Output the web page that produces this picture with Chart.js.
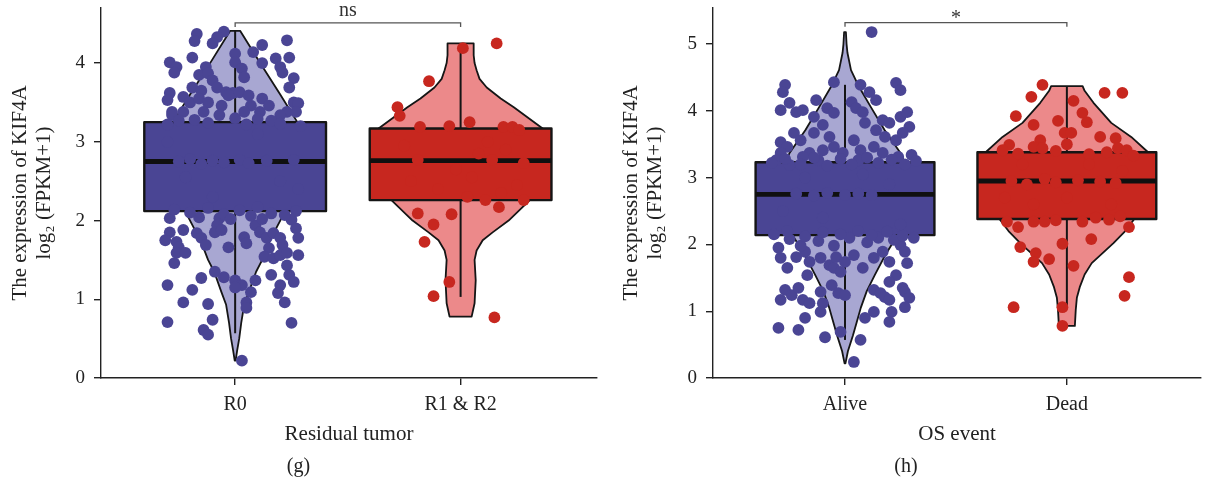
<!DOCTYPE html>
<html>
<head>
<meta charset="utf-8">
<script src="https://cdn.jsdelivr.net/npm/chart.js@4.4.1/dist/chart.umd.min.js"></script>
<style>
  body { margin: 0; background: #fff; }
  #wrap { position: relative; width: 1207px; height: 487px; }
  canvas { position: absolute; top: 0; }
  #chartG { left: 0; }
  #chartH { left: 607px; }
</style>
</head>
<body>
<div id="wrap">
  <canvas id="chartG" width="607" height="487"></canvas>
  <canvas id="chartH" width="600" height="487"></canvas>
</div>
<script>
// categories and tick values
const residualCats = ['R0', 'R1 & R2'];
const osCats = ['Alive', 'Dead'];
const yTicksG = [0, 1, 2, 3, 4];
const yTicksH = [0, 1, 2, 3, 4, 5];

// box stats: [whisker low, Q1, median, Q3, whisker high]
const boxR0 = [0.57, 2.12, 2.75, 3.25, 4.41];
const boxR12 = [1.03, 2.26, 2.76, 3.17, 4.25];
const boxAlive = [0.57, 2.14, 2.75, 3.23, 4.39];
const boxDead = [1.06, 2.38, 2.95, 3.38, 4.37];

// violin outlines: [value, half width in category units]
const violinR0 = [[0.22, 0.002], [0.35, 0.009], [0.5, 0.018], [0.7, 0.027], [0.93, 0.04], [1.1, 0.062], [1.35, 0.093],
  [1.5, 0.12], [1.7, 0.147], [1.9, 0.182], [2.12, 0.222], [2.5, 0.275], [2.9, 0.293], [3.25, 0.276], [3.6, 0.2],
  [4.0, 0.111], [4.41, 0.022]];
const violinR12 = [[0.78, 0.049], [0.95, 0.062], [1.24, 0.067], [1.5, 0.062], [1.62, 0.071], [1.75, 0.098], [1.85, 0.142],
  [2.0, 0.213], [2.26, 0.307], [2.5, 0.364], [2.9, 0.391], [3.17, 0.364], [3.44, 0.236], [3.55, 0.178], [3.69, 0.116],
  [3.8, 0.084], [3.91, 0.071], [4.0, 0.062], [4.1, 0.058], [4.25, 0.058]];
const violinAlive = [[0.22, 0.002], [0.4, 0.013], [0.64, 0.036], [0.85, 0.054], [1.05, 0.071], [1.3, 0.098], [1.54, 0.134],
  [1.85, 0.183], [2.14, 0.237], [2.5, 0.277], [2.9, 0.286], [3.23, 0.268], [3.37, 0.25], [3.71, 0.179], [4.06, 0.116],
  [4.36, 0.063], [4.61, 0.027], [4.87, 0.011], [5.0, 0.007], [5.18, 0.004]];
const violinDead = [[0.78, 0.036], [1.02, 0.04], [1.2, 0.045], [1.36, 0.058], [1.55, 0.08], [1.72, 0.112], [2.02, 0.21],
  [2.2, 0.263], [2.38, 0.304], [2.7, 0.357], [3.0, 0.375], [3.38, 0.366], [3.61, 0.29], [3.82, 0.2], [4.12, 0.12],
  [4.3, 0.08], [4.37, 0.071]];

// jittered samples: [offset from category, value]
const ptsR0 = [
  [-0.05, 4.40], [-0.08, 4.33], [-0.10, 4.25], [-0.17, 4.37], [-0.18, 4.28], [-0.19, 4.07], [-0.29, 4.01], [-0.26, 3.95],
  [-0.27, 3.88], [-0.13, 3.95], [0.00, 4.12], [0.00, 4.01], [0.03, 3.93], [0.04, 3.82], [0.08, 4.14], [0.12, 4.23],
  [0.12, 4.00], [0.18, 4.06], [0.20, 3.95], [0.21, 3.88], [0.23, 4.29], [0.24, 4.07], [0.26, 3.81], [0.24, 3.69],
  [-0.29, 3.62], [-0.30, 3.53], [0.26, 3.50], [0.28, 3.49], [-0.28, 3.38], [-0.01, 3.62], [-0.16, 3.85], [-0.12, 3.87],
  [-0.10, 3.78], [-0.19, 3.69], [-0.15, 3.65], [-0.08, 3.69], [-0.04, 3.63], [-0.23, 3.57], [-0.20, 3.50], [-0.16, 3.55],
  [-0.12, 3.50], [-0.06, 3.46], [-0.03, 3.59], [0.02, 3.63], [0.06, 3.59], [0.07, 3.46], [0.12, 3.55], [0.15, 3.46],
  [0.11, 3.38], [0.04, 3.38], [-0.23, 3.38], [-0.14, 3.38], [-0.07, 3.34], [-0.28, 3.34], [0.23, 3.38], [0.27, 3.38],
  [0.20, 3.34], [0.00, 3.30], [-0.18, 3.28], [0.10, 3.29], [0.16, 3.27], [-0.25, 3.27],
  [-0.30, 3.22], [-0.12, 3.24], [0.05, 3.22], [0.20, 3.23], [0.29, 3.20],
  [-0.29, 2.03], [-0.16, 2.04], [-0.29, 1.85], [-0.31, 1.75], [-0.23, 1.88], [-0.26, 1.73], [-0.25, 1.66], [-0.26, 1.59],
  [-0.22, 1.59], [-0.27, 1.46], [-0.17, 1.84], [-0.15, 1.78], [-0.13, 1.69], [-0.07, 2.03], [-0.08, 1.94], [-0.09, 1.85],
  [-0.06, 1.88], [-0.03, 1.66], [0.04, 1.79], [0.05, 1.71], [0.09, 1.94], [0.11, 1.85], [0.14, 1.78], [0.17, 1.84],
  [0.20, 1.78], [0.21, 1.69], [0.15, 1.65], [0.13, 1.54], [0.17, 1.52], [0.20, 1.56], [0.23, 1.59], [0.25, 2.01],
  [0.27, 1.90], [0.28, 1.78], [0.28, 1.56], [0.23, 1.43], [-0.09, 1.35], [-0.05, 1.28], [0.00, 1.24], [0.03, 1.18],
  [0.00, 1.15], [0.09, 1.24], [0.07, 1.09], [-0.15, 1.27], [-0.19, 1.12], [-0.23, 0.96], [-0.12, 0.94], [0.05, 0.96],
  [0.05, 0.89], [0.16, 1.31], [0.20, 1.18], [0.24, 1.31], [0.26, 1.22], [0.19, 1.08], [0.22, 0.96], [-0.30, 1.18],
  [-0.30, 0.71], [-0.10, 0.74], [-0.14, 0.61], [-0.12, 0.55], [0.25, 0.70], [0.03, 0.22],
  [-0.05, 2.08], [0.07, 2.06], [0.16, 2.09], [0.22, 2.07], [-0.20, 2.10], [0.12, 2.02],
  [-0.27, 2.14], [-0.12, 2.16], [0.02, 2.13], [0.10, 2.17], [0.27, 2.12], [-0.02, 2.02],
  [-0.25, 2.75], [-0.20, 2.78], [-0.15, 2.72], [-0.10, 2.76], [-0.05, 2.74], [0.02, 2.77], [0.06, 2.73], [0.14, 2.76],
  [0.26, 2.77], [-0.30, 3.00], [0.20, 2.50], [-0.10, 2.30], [0.10, 3.10], [0.28, 2.40], [-0.22, 2.55]
];
const ptsR12 = [
  [0.01, 4.19], [0.16, 4.25], [-0.14, 3.77], [-0.28, 3.44], [-0.27, 3.33], [-0.18, 3.19], [-0.05, 3.20], [0.04, 3.25],
  [0.19, 3.19], [0.23, 3.19], [0.26, 3.15], [-0.19, 2.77], [0.14, 2.77], [0.28, 2.73], [0.03, 2.30], [0.11, 2.26],
  [0.17, 2.17], [0.28, 2.26], [-0.19, 2.09], [-0.12, 1.95], [-0.04, 2.08], [-0.16, 1.73], [-0.05, 1.22], [-0.12, 1.04],
  [0.15, 0.77], [-0.25, 2.95], [0.05, 2.55], [0.20, 2.90], [-0.10, 2.40], [0.25, 2.45], [0.12, 3.00], [-0.22, 2.50],
  [0.08, 2.85], [-0.02, 2.65], [0.18, 2.35]
];
const ptsAlive = [
  [0.12, 5.18], [-0.27, 4.39], [-0.28, 4.28], [-0.05, 4.43], [0.07, 4.39], [0.11, 4.28], [0.14, 4.16], [0.23, 4.42],
  [0.25, 4.31], [-0.13, 4.16], [-0.29, 4.01], [-0.25, 4.12], [-0.22, 3.98], [-0.19, 4.01], [-0.14, 3.91], [-0.08, 4.04],
  [-0.05, 3.97], [0.03, 4.13], [0.05, 4.04], [0.08, 3.98], [0.17, 3.86], [0.20, 3.82], [0.25, 3.91], [0.28, 3.98],
  [0.29, 3.76], [-0.14, 3.67], [-0.10, 3.79], [-0.07, 3.61], [-0.29, 3.53], [-0.26, 3.46], [-0.23, 3.67], [-0.20, 3.56],
  [0.09, 3.82], [0.14, 3.71], [0.18, 3.61], [0.23, 3.56], [0.26, 3.67], [0.04, 3.56], [0.07, 3.41], [0.13, 3.46],
  [0.17, 3.37], [-0.29, 3.37], [-0.31, 3.26], [-0.05, 3.46], [-0.01, 3.37], [-0.10, 3.41], [-0.16, 3.37], [-0.19, 3.31],
  [0.24, 3.31], [0.30, 3.34], [0.06, 3.26], [-0.12, 3.26], [-0.25, 3.19],
  [-0.33, 3.22], [-0.27, 3.28], [-0.20, 3.20], [-0.14, 3.30], [-0.08, 3.18], [-0.02, 3.28], [0.03, 3.20], [0.10, 3.30],
  [0.15, 3.22], [0.21, 3.27], [0.27, 3.20], [0.32, 3.25],
  [-0.30, 1.95], [-0.29, 1.80], [-0.26, 1.65], [-0.22, 1.81], [-0.18, 1.89], [-0.16, 1.74], [-0.11, 1.80], [-0.07, 1.69],
  [-0.04, 1.81], [0.00, 1.74], [0.04, 1.84], [0.08, 1.65], [0.13, 1.80], [0.17, 1.89], [0.20, 1.74], [0.25, 1.99],
  [0.27, 1.89], [0.28, 1.72], [-0.17, 1.54], [-0.05, 1.65], [-0.02, 1.59], [0.23, 1.54], [0.20, 1.44], [-0.27, 1.32],
  [-0.29, 1.17], [-0.24, 1.24], [-0.21, 1.35], [-0.19, 1.17], [-0.16, 1.12], [-0.11, 1.29], [-0.10, 1.12], [-0.11, 0.99],
  [-0.06, 1.39], [-0.03, 1.27], [0.00, 1.24], [0.13, 1.32], [0.16, 1.27], [0.18, 1.21], [0.20, 1.17], [0.26, 1.35],
  [0.27, 1.29], [0.29, 1.20], [0.21, 0.99], [0.20, 0.84], [0.27, 1.06], [0.13, 0.99], [0.09, 0.90], [-0.18, 0.90],
  [-0.30, 0.75], [-0.21, 0.72], [-0.09, 0.61], [-0.02, 0.69], [0.07, 0.57], [0.04, 0.24],
  [-0.25, 2.08], [-0.12, 2.05], [0.02, 2.10], [0.10, 2.03], [0.22, 2.07], [-0.05, 1.98], [0.15, 2.10], [-0.20, 1.98],
  [-0.32, 2.15], [-0.26, 2.20], [-0.18, 2.12], [-0.10, 2.18], [-0.02, 2.15], [0.06, 2.20], [0.12, 2.14], [0.19, 2.19],
  [0.26, 2.13], [0.31, 2.10],
  [-0.22, 2.76], [-0.14, 2.73], [-0.08, 2.77], [0.00, 2.74], [0.06, 2.76], [0.12, 2.74], [-0.28, 2.50], [0.20, 2.90],
  [-0.10, 2.40], [0.25, 2.30], [0.08, 3.05], [-0.18, 3.00]
];
const ptsDead = [
  [-0.11, 4.39], [-0.16, 4.21], [0.17, 4.27], [0.25, 4.27], [-0.23, 3.92], [0.03, 4.15], [0.07, 3.97], [0.09, 3.83],
  [-0.04, 3.85], [-0.15, 3.79], [-0.01, 3.67], [0.02, 3.67], [0.00, 3.50], [0.15, 3.61], [0.22, 3.59], [0.23, 3.44],
  [-0.12, 3.56], [-0.15, 3.46], [-0.11, 3.44], [-0.26, 3.49], [-0.29, 3.41], [0.27, 3.41],
  [-0.22, 3.36], [-0.05, 3.40], [0.10, 3.35], [0.18, 3.38], [0.30, 3.33],
  [-0.27, 2.34], [-0.22, 2.26], [-0.15, 2.34], [-0.10, 2.34], [0.07, 2.34], [0.19, 2.37], [0.28, 2.26], [0.11, 2.08],
  [-0.02, 2.01], [-0.21, 1.96], [-0.14, 1.87], [-0.15, 1.74], [-0.08, 1.78], [0.03, 1.68], [0.28, 1.51], [0.26, 1.23],
  [-0.24, 1.06], [-0.02, 1.06], [-0.02, 0.78],
  [-0.05, 2.36], [0.13, 2.40], [0.24, 2.42],
  [-0.25, 2.95], [-0.18, 2.90], [-0.10, 2.98], [-0.05, 2.93], [0.05, 2.96], [0.15, 2.94], [0.22, 2.92], [0.10, 3.20],
  [-0.20, 3.20], [0.20, 2.60], [-0.15, 2.60], [0.00, 2.70], [0.25, 3.10], [-0.28, 2.70]
];

const BLUE = '#4a4594';
const BLUE_LIGHT = '#a8a7d2';
const RED = '#c7271f';
const RED_LIGHT = '#ec898a';
const SERIF = '"Liberation Serif", "Times New Roman", serif';
const BOX_HALF = 0.403;

// violin + box + whisker underneath the jittered points, bracket on top
function violinBoxPlugin(groups, sig) {
  return {
    id: 'violinBox',
    beforeDatasetsDraw(chart) {
      const { ctx, scales: { x, y } } = chart;
      ctx.save();
      groups.forEach(g => {
        const c = g.cat;
        ctx.beginPath();
        g.violin.forEach(([v, w], i) => {
          const px = x.getPixelForValue(c + w), py = y.getPixelForValue(v);
          if (i === 0) ctx.moveTo(px, py); else ctx.lineTo(px, py);
        });
        for (let i = g.violin.length - 1; i >= 0; i--) {
          const [v, w] = g.violin[i];
          ctx.lineTo(x.getPixelForValue(c - w), y.getPixelForValue(v));
        }
        ctx.closePath();
        ctx.fillStyle = g.light;
        ctx.fill();
        ctx.lineJoin = 'round';
        ctx.lineWidth = 1.8;
        ctx.strokeStyle = '#151515';
        ctx.stroke();

        const [lo, q1, med, q3, hi] = g.box;
        const cx = x.getPixelForValue(c);
        ctx.beginPath();
        ctx.moveTo(cx, y.getPixelForValue(lo));
        ctx.lineTo(cx, y.getPixelForValue(hi));
        ctx.lineWidth = 2;
        ctx.stroke();

        const bl = x.getPixelForValue(c - BOX_HALF), br = x.getPixelForValue(c + BOX_HALF);
        const bt = y.getPixelForValue(q3), bb = y.getPixelForValue(q1);
        ctx.fillStyle = g.dark;
        ctx.fillRect(bl, bt, br - bl, bb - bt);
        ctx.lineWidth = 2.4;
        ctx.strokeRect(bl, bt, br - bl, bb - bt);
        ctx.beginPath();
        ctx.moveTo(bl, y.getPixelForValue(med));
        ctx.lineTo(br, y.getPixelForValue(med));
        ctx.lineWidth = 4.8;
        ctx.strokeStyle = '#101010';
        ctx.stroke();
      });
      ctx.restore();
    },
    afterDraw(chart) {
      const { ctx, scales: { x, y } } = chart;
      const xa = x.getPixelForValue(1), xb = x.getPixelForValue(2);
      const yl = y.getPixelForValue(sig.level), yt = y.getPixelForValue(sig.level - sig.drop);
      ctx.save();
      ctx.strokeStyle = '#555';
      ctx.lineWidth = 1.3;
      ctx.beginPath();
      ctx.moveTo(xa, yt);
      ctx.lineTo(xa, yl);
      ctx.lineTo(xb, yl);
      ctx.lineTo(xb, yt);
      ctx.stroke();
      ctx.fillStyle = '#333';
      ctx.font = '20px ' + SERIF;
      ctx.textAlign = 'center';
      ctx.textBaseline = 'alphabetic';
      ctx.fillText(sig.text, (xa + xb) / 2, yl + sig.textShift);
      ctx.restore();
    }
  };
}

function pointSet(cat, pts, color) {
  return {
    type: 'scatter',
    data: pts.map(([dx, v]) => ({ x: cat + dx, y: v })),
    backgroundColor: color,
    borderWidth: 0,
    pointRadius: 5.9,
    pointHoverRadius: 5.9
  };
}

function makeChart(id, cfg) {
  const axisColor = '#222';
  const grid = { drawOnChartArea: false, drawTicks: true, tickLength: 7, color: axisColor, lineWidth: 1.4 };
  const border = { display: true, color: axisColor, width: 1.4 };
  return new Chart(document.getElementById(id), {
    type: 'scatter',
    data: {
      datasets: [
        pointSet(1, cfg.pts[0], BLUE),
        pointSet(2, cfg.pts[1], RED)
      ]
    },
    options: {
      responsive: false,
      animation: false,
      events: [],
      layout: { padding: { top: 8, right: cfg.padRight, left: 0, bottom: 0 } },
      scales: {
        x: {
          type: 'linear',
          min: 0.405,
          max: 2.605,
          afterBuildTicks: s => { s.ticks = [{ value: 1 }, { value: 2 }]; },
          afterFit: s => { s.height = 77; s.paddingLeft = 0; s.paddingRight = 0; },
          grid, border,
          ticks: {
            color: '#222', padding: 8, maxRotation: 0, autoSkip: false,
            font: { family: SERIF, size: 20 },
            callback: (v, i) => cfg.cats[i]
          },
          title: {
            display: true, text: cfg.xTitle, color: '#222',
            font: { family: SERIF, size: 21 },
            padding: { top: 0, bottom: 8 }
          }
        },
        y: {
          type: 'linear',
          min: 0,
          max: cfg.yMax,
          afterBuildTicks: s => { s.ticks = cfg.yTicks.map(v => ({ value: v })); },
          afterFit: s => { s.width = cfg.yWidth; s.paddingTop = 0; s.paddingBottom = 0; },
          grid, border,
          ticks: {
            color: '#222', padding: 9,
            font: { family: SERIF, size: 19 }
          },
          title: {
            display: true,
            text: ['The expression of KIF4A', 'log\u2082 (FPKM+1)'],
            color: '#222',
            font: { family: SERIF, size: 21, lineHeight: 1.13 },
            padding: { top: cfg.titlePad }
          }
        }
      },
      plugins: {
        legend: { display: false },
        tooltip: { enabled: false },
        title: {
          display: true, text: cfg.caption, position: 'bottom', color: '#222',
          font: { family: SERIF, size: 20, weight: 'normal' },
          padding: { top: 0, bottom: 8 }
        }
      }
    },
    plugins: [violinBoxPlugin(cfg.groups, cfg.sig)]
  });
}

makeChart('chartG', {
  cats: residualCats, xTitle: 'Residual tumor', caption: '(g)',
  yMax: 4.7, yTicks: yTicksG, yWidth: 101, padRight: 10, titlePad: 9,
  pts: [ptsR0, ptsR12],
  groups: [
    { cat: 1, violin: violinR0, box: boxR0, light: BLUE_LIGHT, dark: BLUE },
    { cat: 2, violin: violinR12, box: boxR12, light: RED_LIGHT, dark: RED }
  ],
  sig: { text: 'ns', level: 4.51, drop: 0.05, textShift: -7 }
});

makeChart('chartH', {
  cats: osCats, xTitle: 'OS event', caption: '(h)',
  yMax: 5.54, yTicks: yTicksH, yWidth: 106, padRight: 2, titlePad: 13,
  pts: [ptsAlive, ptsDead],
  groups: [
    { cat: 1, violin: violinAlive, box: boxAlive, light: BLUE_LIGHT, dark: BLUE },
    { cat: 2, violin: violinDead, box: boxDead, light: RED_LIGHT, dark: RED }
  ],
  sig: { text: '*', level: 5.32, drop: 0.06, textShift: 1 }
});
</script>
</body>
</html>
